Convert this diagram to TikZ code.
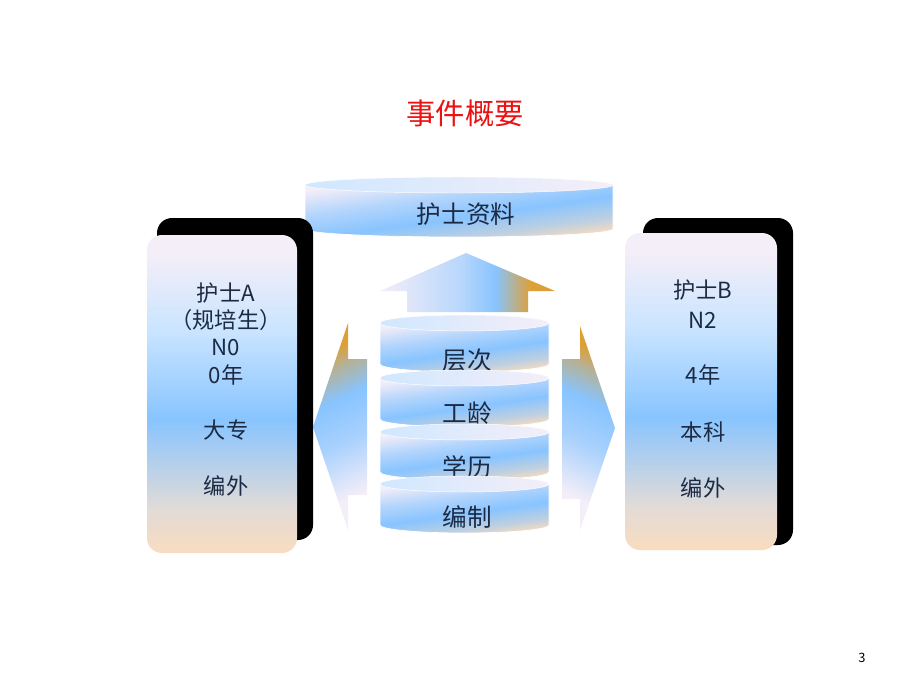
\documentclass[tikz,border=0pt]{standalone}
\usepackage{fontspec}
\setmainfont{Noto Sans CJK SC}
\definecolor{lavend}{HTML}{F4EEF8}
\definecolor{skyblue}{HTML}{88C4FF}
\definecolor{peach}{HTML}{F9DCBF}
\definecolor{amber}{HTML}{DDA038}
\definecolor{navy}{HTML}{1C2A44}
\definecolor{titlered}{HTML}{EE1111}

\pgfdeclareverticalshading{panelshade}{100bp}{color(0bp)=(peach); color(25bp)=(peach);
  color(32bp)=(skyblue!25!peach!80!lavend); color(46bp)=(skyblue); color(60bp)=(skyblue!45!white);
  color(72bp)=(lavend); color(100bp)=(lavend)}
\pgfdeclareverticalshading{bodyshade}{100bp}{color(0bp)=(peach); color(25bp)=(peach);
  color(33bp)=(skyblue!50!peach); color(46bp)=(skyblue); color(60bp)=(skyblue!60!lavend);
  color(75bp)=(lavend); color(100bp)=(lavend)}
\pgfdeclareverticalshading{sidearrowshade}{100bp}{color(0bp)=(lavend); color(28bp)=(lavend);
  color(45bp)=(skyblue!70!lavend); color(58bp)=(skyblue); color(67bp)=(skyblue!50!amber);
  color(73bp)=(amber); color(100bp)=(amber)}
\pgfdeclarehorizontalshading{uparrowshade}{100bp}{color(0bp)=(lavend); color(25bp)=(lavend);
  color(48bp)=(skyblue!55!lavend); color(58bp)=(skyblue); color(68bp)=(amber);
  color(100bp)=(amber)}

\begin{document}
\begin{tikzpicture}[
    boxtxt/.style={text=navy, inner sep=0pt, font=\fontsize{19}{19}\selectfont},
    stacktxt/.style={text=navy, inner sep=0pt, font=\fontsize{21}{21}\selectfont},
    panel/.style={rounded corners=0.45cm, shading=panelshade},
    shadowbox/.style={fill=black, rounded corners=0.45cm},
    cylbody/.style={shading=bodyshade, shading angle=8, draw=white, line width=0.6pt},
    cyltop/.style={left color=skyblue!40!white, right color=lavend, draw=white, line width=0.4pt},
  ]
    \pgfsetxvec{\pgfpoint{0.03cm}{0}}
    \pgfsetyvec{\pgfpoint{0}{-0.03cm}}

    \path[fill=white] (0,0) rectangle (920,690);

    % title
    \node[text=titlered, inner sep=0pt, font=\fontsize{25}{25}\selectfont] (title) at (465,113) {事件概要};

    % top cylinder
    \shade[cylbody] (305,185) -- (305,229) arc[start angle=180, end angle=0, x radius=154, y radius=8] -- (613,185) -- cycle;
    \shade[cyltop] (459,185) ellipse[x radius=154, y radius=8];
    \node[stacktxt] (data) at (466,214) {护士资料};

    % arrows
    \shade[shading=uparrowshade]
      (407,312) -- (407,291) -- (380,291) -- (466,253) -- (555,291) -- (528,291) -- (528,312) -- cycle;
    \shade[shading=sidearrowshade, shading angle=25]
      (367,359) -- (348,359) -- (348,323) -- (313,427) -- (348,530) -- (348,495) -- (367,495) -- cycle;
    \shade[shading=sidearrowshade, shading angle=-25]
      (562,359) -- (580,359) -- (580,326) -- (615,428) -- (580,530) -- (580,499) -- (562,499) -- cycle;

    % stack
    \foreach \yt/\yb/\ty/\lbl/\nm in {323/364/360/层次/level, 378/419/413/工龄/years,
                                      432/472/467/学历/degree, 484/525/517/编制/post} {
      \shade[cylbody] (380,\yt) -- (380,\yb) arc[start angle=180, end angle=0, x radius=84.5, y radius=8] -- (549,\yt) -- cycle;
      \shade[cyltop] (464.5,\yt) ellipse[x radius=84.5, y radius=8];
      \node[stacktxt] (\nm) at (467,\ty) {\lbl};
    }

    % nurse A
    \fill[shadowbox] (157,218) rectangle (313,540);
    \shade[panel] (147,235) rectangle (297,553);
    \foreach \y/\lbl/\nm in {293/护士A/nameA, 320/（规培生）/typeA, 347/N0/gradeA,
                             375/0年/yearsA, 430/大专/degreeA, 486/编外/postA} {
      \node[boxtxt] (\nm) at (226,\y) {\lbl};
    }

    % nurse B
    \fill[shadowbox] (643,218) rectangle (793,545);
    \shade[panel] (625,233) rectangle (777,550);
    \foreach \y/\lbl/\nm in {290/护士B/nameB, 320/N2/gradeB, 375/4年/yearsB,
                             432/本科/degreeB, 488/编外/postB} {
      \node[boxtxt] (\nm) at (703,\y) {\lbl};
    }

    \node[inner sep=0pt, font=\fontsize{11}{11}\selectfont] (page) at (862,658) {3};
\end{tikzpicture}
\end{document}
